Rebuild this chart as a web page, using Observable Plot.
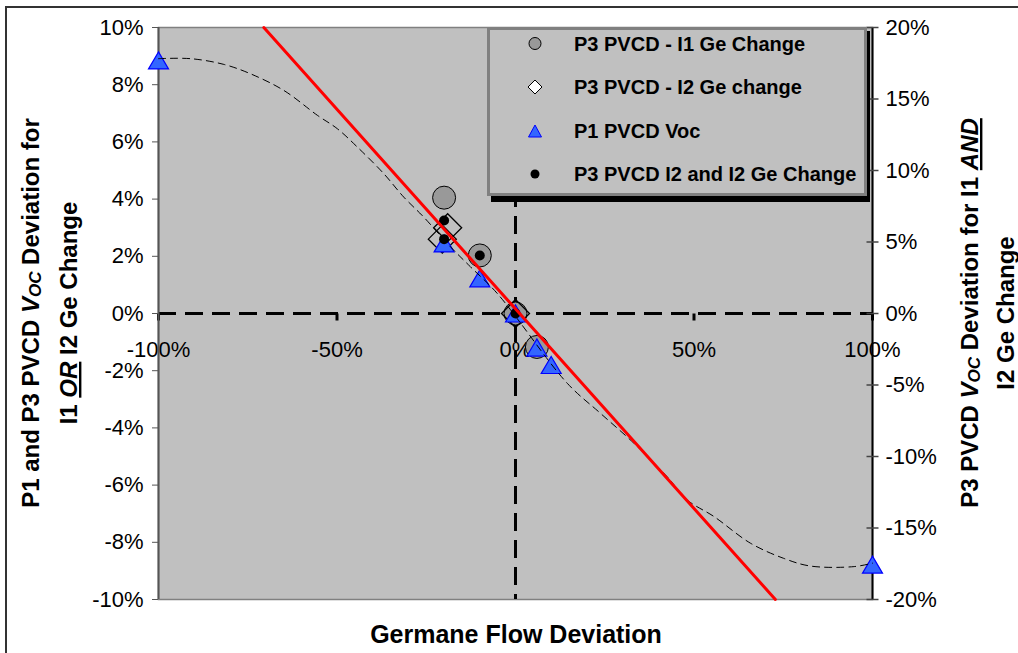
<!DOCTYPE html>
<html>
<head>
<meta charset="utf-8">
<script src="https://cdn.jsdelivr.net/npm/d3@7"></script>
<script src="https://cdn.jsdelivr.net/npm/@observablehq/plot@0.6"></script>
<style>
  html, body { margin: 0; padding: 0; background: #fff; }
  #chart { position: relative; width: 1018px; height: 653px; overflow: hidden; }
  #chart svg { font-family: "Liberation Sans", Arial, sans-serif; }
</style>
</head>
<body>
<div id="chart"></div>
<script>
// Germane flow deviation (%) against PVCD Voc deviation (%)
const p3I1Flow = [-20, -10, 0, 6];
const p3I1Voc  = [4.05, 2.03, 0, -1.17];

const p3I2Flow = [-19, -20.5, 0];
const p3I2Voc  = [3.0, 2.6, 0];

const p1Flow = [-100, -20, -10, 0, 6, 10, 100];
const p1Voc  = [8.85, 2.45, 1.23, 0, -1.19, -1.80, -8.78];

// combined I1 + I2 change, read against the right-hand axis
const p3BothFlow = [-20, -20, -10, 0];
const p3BothVoc  = [6.5, 5.2, 4.05, 0];

// polynomial trend line through the P1 series
const trendFlow = [-100, -91.0, -81.7, -74.2, -64.9, -55.5, -49.9, -44.3, -36.9, -31.3, -25.7, -18.2, -12.6, -5.1,
                   14.5, 23.8, 33.2, 42.5, 48.1, 55.6, 65.8, 75.1, 82.6, 94.8, 100];
const trendVoc  = [8.91, 8.91, 8.71, 8.38, 7.80, 6.93, 6.46, 5.82, 4.89, 4.07, 3.37, 2.33, 1.63, 0.70,
                   -2.44, -3.49, -4.54, -5.71, -6.52, -7.10, -8.03, -8.56, -8.83, -8.85, -8.73];

// linear trend line
const linFlow = [-70.5, 72.8];
const linVoc  = [10, -10];

const xTicks     = [-100, -50, 0, 50, 100];
const leftTicks  = [-10, -8, -6, -4, -2, 0, 2, 4, 6, 8, 10];
const rightTicks = [-20, -15, -10, -5, 0, 5, 10, 15, 20];
const rightRatio = 2; // right axis covers twice the left axis range

const seriesNames = [
  "P3 PVCD - I1 Ge Change",
  "P3 PVCD - I2 Ge change",
  "P1 PVCD Voc",
  "P3 PVCD I2 and I2 Ge Change"
];

const zip = (xs, ys, k = 1) => xs.map((x, i) => ({x, y: ys[i] * k}));

// marker shapes
const triangle = (w, h) => ({draw(ctx) { ctx.moveTo(0, -h / 2); ctx.lineTo(w / 2, h / 2); ctx.lineTo(-w / 2, h / 2); ctx.closePath(); }});
const diamond = (r) => ({draw(ctx) { ctx.moveTo(0, -r); ctx.lineTo(r, 0); ctx.lineTo(0, r); ctx.lineTo(-r, 0); ctx.closePath(); }});
const downTick = {draw(ctx) { ctx.moveTo(0, 0); ctx.lineTo(0, 7); }};
const crossTick = {draw(ctx) { ctx.moveTo(-6, 0); ctx.lineTo(6, 0); }};

const blueFill = "#3366ff", blueStroke = "#0000ff", grayFill = "#999999";
const tickFont = 22;

const chart = Plot.plot({
  width: 1018,
  height: 653,
  marginLeft: 158,
  marginRight: 146,
  marginTop: 27,
  marginBottom: 54,
  style: {background: "white", color: "black", fontSize: tickFont + "px", fontFamily: "'Liberation Sans', Arial, sans-serif", overflow: "visible"},
  x: {domain: [-100, 100], axis: null},
  y: {domain: [-10, 10]},
  marks: [
    Plot.frame({fill: "#c0c0c0", stroke: "#808080", strokeWidth: 1.5}),
    // axes crossing at the origin
    Plot.ruleY([0], {stroke: "black", strokeWidth: 3, strokeDasharray: "18,9"}),
    Plot.ruleX([0], {stroke: "black", strokeWidth: 3, strokeDasharray: "18,9"}),
    Plot.dot(xTicks, {x: d => d, y: 0, symbol: downTick, fill: "none", stroke: "black", strokeWidth: 3}),
    Plot.text(xTicks, {x: d => d, y: 0, text: d => d + "%", dy: 36, fontSize: tickFont}),
    // left axis
    Plot.ruleX([-100], {stroke: "#555", strokeWidth: 2}),
    Plot.axisY(leftTicks, {anchor: "left", tickSize: 6, tickPadding: 9, tickFormat: d => d + "%", label: null, stroke: "#555", fontSize: tickFont}),
    // right axis (ticks cross the axis line)
    Plot.ruleX([100], {stroke: "black", strokeWidth: 2}),
    Plot.axisY(rightTicks.map(d => d / rightRatio), {anchor: "right", tickSize: 0, tickPadding: 13, tickFormat: d => d * rightRatio + "%", label: null, fontSize: tickFont}),
    Plot.dot(rightTicks.map(d => d / rightRatio), {x: 100, y: d => d, symbol: crossTick, fill: "none", stroke: "#444", strokeWidth: 1.5}),
    // series
    Plot.dot(zip(p3I1Flow, p3I1Voc), {x: "x", y: "y", r: 11.5, fill: grayFill, stroke: "black", strokeWidth: 1}),
    Plot.dot(zip(p3I2Flow, p3I2Voc), {x: "x", y: "y", symbol: diamond(14), fill: "none", stroke: "black", strokeWidth: 1.3}),
    Plot.dot(zip(p1Flow, p1Voc), {x: "x", y: "y", symbol: triangle(20, 17), fill: blueFill, stroke: blueStroke, strokeWidth: 1.2}),
    Plot.dot(zip(p3BothFlow, p3BothVoc, 1 / rightRatio), {x: "x", y: "y", r: 5, fill: "black"}),
    // trend lines
    Plot.line(zip(trendFlow, trendVoc), {x: "x", y: "y", curve: "catmull-rom", stroke: "black", strokeWidth: 1, strokeDasharray: "7,5"}),
    Plot.line(zip(linFlow, linVoc), {x: "x", y: "y", stroke: "#ff0000", strokeWidth: 3})
  ]
});

document.getElementById("chart").appendChild(chart);

const svg = d3.select(chart);
const font = "'Liberation Sans', Arial, sans-serif";

// outer border of the chart area
svg.append("path").attr("d", "M6,700V7H1030").attr("fill", "none").attr("stroke", "#333").attr("stroke-width", 2);

// axis titles
function title(x, y, rotate, size = 24) {
  return svg.append("text")
    .attr("transform", `translate(${x},${y})` + (rotate ? ` rotate(${rotate})` : ""))
    .attr("text-anchor", "middle")
    .attr("font-family", font).attr("font-weight", "bold").attr("font-size", size).attr("fill", "black");
}
// "Voc" with a lowered, smaller "OC"; the following text returns to the baseline
function voc(t, after) {
  t.append("tspan").attr("font-style", "italic").text("V");
  t.append("tspan").attr("font-style", "italic").attr("font-size", 17).attr("dy", 2).text("OC");
  t.append("tspan").attr("dy", -2).text(after);
}

title(516, 643, 0, 25).text("Germane Flow Deviation");

let t = title(39, 313, -90);
t.append("tspan").text("P1 and P3 PVCD ");
voc(t, " Deviation for");

t = title(77, 313, -90);
t.append("tspan").text("I1 ");
t.append("tspan").attr("font-style", "italic").attr("text-decoration", "underline").text("OR");
t.append("tspan").text(" I2 Ge Change");

t = title(978, 313, -90);
t.append("tspan").text("P3 PVCD ");
voc(t, " Deviation for I1 ");
t.append("tspan").attr("font-style", "italic").attr("text-decoration", "underline").text("AND");

title(1014, 313, -90).text("I2 Ge Change");

// legend
const lg = svg.append("g").attr("text-anchor", "start");
lg.append("rect").attr("x", 491).attr("y", 31).attr("width", 379).attr("height", 171).attr("fill", "black");
lg.append("rect").attr("x", 488.5).attr("y", 28.5).attr("width", 377).attr("height", 166)
  .attr("fill", "#c0c0c0").attr("stroke", "#808080").attr("stroke-width", 3);
const rowY = [43.5, 87, 131, 174];
const mx = 535;
lg.append("circle").attr("cx", mx).attr("cy", rowY[0]).attr("r", 6).attr("fill", grayFill).attr("stroke", "black");
lg.append("path").attr("d", `M${mx},${rowY[1] - 7}l7,7l-7,7l-7,-7z`).attr("fill", "white").attr("stroke", "black");
lg.append("path").attr("d", `M${mx},${rowY[2] - 6}l6.5,12h-13z`).attr("fill", blueFill).attr("stroke", blueStroke);
lg.append("circle").attr("cx", mx).attr("cy", rowY[3]).attr("r", 4.5).attr("fill", "black");
seriesNames.forEach((s, i) => {
  lg.append("text").attr("x", 574).attr("y", rowY[i] + 7).attr("text-anchor", "start")
    .attr("font-family", font).attr("font-weight", "bold").attr("font-size", 20).attr("fill", "black").text(s);
});
</script>
</body>
</html>
